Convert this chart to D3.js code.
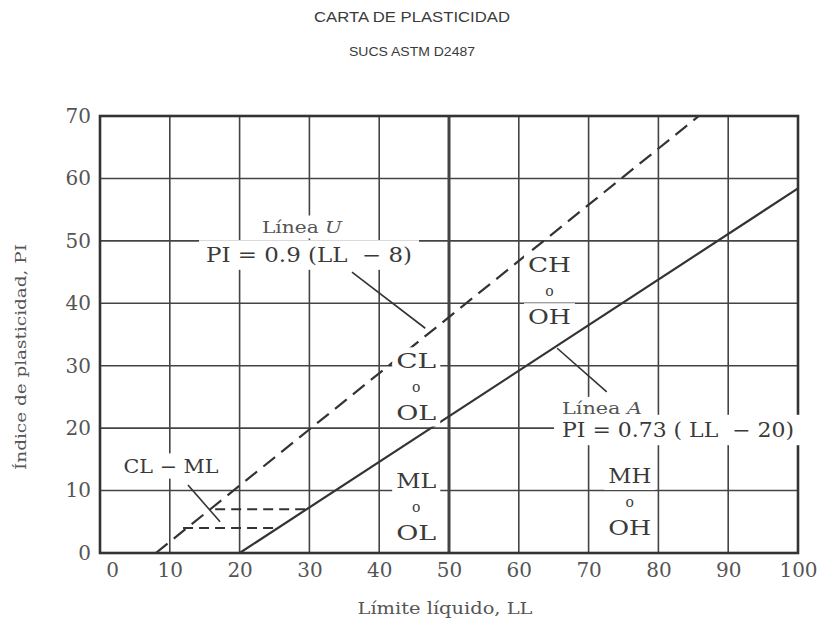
<!DOCTYPE html>
<html><head><meta charset="utf-8">
<script src="https://cdn.jsdelivr.net/npm/d3@7"></script>
<style>body{margin:0;background:#fff}</style>
</head><body><svg id="c" width="824" height="625"></svg>
<script>
// ---- data ----
const xTicks = [0,10,20,30,40,50,60,70,80,90,100];
const yTicks = [0,10,20,30,40,50,60,70];
const lineU = [[8,0],[85.8,70]];          // PI = 0.9 (LL - 8)
const lineA = [[20,0],[100,58.4]];        // PI = 0.73 (LL - 20)
const limit4 = [[11.9,4],[24.8,4]];
const limit7 = [[16.5,7],[30,7]];
const leaderU = [[36.1,45],[46.6,36]];
const leaderA = [[65.5,32.8],[72.6,25.8]];
const leaderCLML = [[12.6,10.9],[17.2,5.0]];
const zoneNames = [["CL","o","OL"],["CH","o","OH"],["ML","o","OL"],["MH","o","OH"]];
const zoneLL = [45.3,64.4,45.3,75.9];
const zonePI = [26.6,42.0,7.3,8.1];

// ---- layout ----
const svg = d3.select("#c");
const L=100, R=798, T=116, B=553;
const x = d3.scaleLinear().domain([0,100]).range([L,R]);
const y = d3.scaleLinear().domain([0,70]).range([B,T]);
const serif = "'DejaVu Serif','Liberation Serif',serif";
const sans = "'Liberation Sans',Arial,sans-serif";
const ink = "#3a3a3a";

svg.append("rect").attr("width",824).attr("height",625).attr("fill","#fff");

// titles
svg.append("text").attr("x",412).attr("y",22).attr("text-anchor","middle")
  .attr("font-family",sans).attr("font-size",15).attr("fill","#3a3a3a")
  .attr("textLength",196).attr("lengthAdjust","spacingAndGlyphs").text("CARTA DE PLASTICIDAD");
svg.append("text").attr("x",412).attr("y",56).attr("text-anchor","middle")
  .attr("font-family",sans).attr("font-size",12).attr("fill","#3a3a3a")
  .attr("textLength",126).attr("lengthAdjust","spacingAndGlyphs").text("SUCS ASTM D2487");

// grid
const g = svg.append("g");
g.selectAll(".vx").data(xTicks.filter(d=>d>0&&d<100)).join("line")
  .attr("x1",d=>x(d)).attr("x2",d=>x(d)).attr("y1",T).attr("y2",B)
  .attr("stroke","#444").attr("stroke-width",d=>d===50?3:1.6);
g.selectAll(".hy").data(yTicks.filter(d=>d>0&&d<70)).join("line")
  .attr("x1",L).attr("x2",R).attr("y1",d=>y(d)).attr("y2",d=>y(d))
  .attr("stroke","#444").attr("stroke-width",1.6);

// lines
const ln = d3.line().x(d=>x(d[0])).y(d=>y(d[1]));
svg.append("clipPath").attr("id","pc").append("rect").attr("x",L).attr("y",T).attr("width",R-L).attr("height",B-T);
svg.append("path").attr("d",ln(lineU)).attr("fill","none").attr("stroke","#333").attr("stroke-width",2.2).attr("stroke-dasharray","15,8").attr("clip-path","url(#pc)");
svg.append("path").attr("d",ln(lineA)).attr("fill","none").attr("stroke","#333").attr("stroke-width",2.2);
[limit4,limit7].forEach(s=>svg.append("path").attr("d",ln(s)).attr("fill","none").attr("stroke","#333").attr("stroke-width",2).attr("stroke-dasharray","10,6"));
[leaderU,leaderA,leaderCLML].forEach(s=>svg.append("path").attr("d",ln(s)).attr("fill","none").attr("stroke","#333").attr("stroke-width",1.6));

// frame
svg.append("rect").attr("x",L).attr("y",T).attr("width",R-L).attr("height",B-T)
  .attr("fill","none").attr("stroke","#333").attr("stroke-width",2.6);

// label helper with white background
function label(cx, cy, parts, size, color, pad, len){
  const t = svg.append("text").attr("x",cx).attr("y",cy).attr("text-anchor","middle")
    .attr("dominant-baseline","central").attr("font-family",serif).attr("font-size",size).attr("fill",color)
    .attr("xml:space","preserve");
  if(len) t.attr("textLength",len).attr("lengthAdjust","spacingAndGlyphs");
  parts.forEach(p=>{ const s=t.append("tspan").text(p.t); if(p.i) s.attr("font-style","italic"); });
  const bb = t.node().getBBox();
  svg.insert("rect", function(){return t.node();})
    .attr("x",bb.x-pad).attr("y",bb.y-pad*0.4).attr("width",bb.width+2*pad).attr("height",bb.height+pad*0.8).attr("fill","#fff");
  return t;
}

zoneNames.forEach((names,i)=>{
  const cx=x(zoneLL[i]), cy=y(zonePI[i]);
  label(cx, cy-26, [{t:names[0]}], 21, ink, 4, names[0].endsWith("H")?43:40);
  label(cx, cy, [{t:names[1]}], 14, ink, 2);
  label(cx, cy+26, [{t:names[2]}], 21, ink, 4, names[2].endsWith("H")?43:40);
});
label(302, 227, [{t:"Línea "},{t:"U",i:true}], 16, "#555", 5, 80);
label(309, 255, [{t:"PI = 0.9 (LL  − 8)"}], 20, ink, 7, 206);
label(602, 408, [{t:"Línea "},{t:"A",i:true}], 16, "#555", 4, 80);
label(678, 430, [{t:"PI = 0.73 ( LL  − 20)"}], 20, ink, 8, 232);
label(171, 466, [{t:"CL − ML"}], 19, ink, 4, 95);

// axes
const xa = svg.append("g").attr("transform",`translate(0,${B})`).call(d3.axisBottom(x).tickValues(xTicks).tickSize(0).tickPadding(10));
xa.select(".domain").remove();
xa.selectAll("text").attr("font-family",serif).attr("font-size",20).attr("fill","#555")
  .attr("dx",d=>d===0?12:0);
const ya = svg.append("g").attr("transform",`translate(${L},0)`).call(d3.axisLeft(y).tickValues(yTicks).tickSize(0).tickPadding(9));
ya.select(".domain").remove();
ya.selectAll("text").attr("font-family",serif).attr("font-size",20).attr("fill","#555");

// axis titles
svg.append("text").attr("x",445).attr("y",614).attr("text-anchor","middle")
  .attr("font-family",serif).attr("font-size",16).attr("fill","#555")
  .attr("textLength",175).attr("lengthAdjust","spacingAndGlyphs").text("Límite líquido, LL");
svg.append("text").attr("transform","translate(26,357) rotate(-90)").attr("text-anchor","middle")
  .attr("font-family",serif).attr("font-size",15).attr("fill","#555")
  .attr("textLength",226).attr("lengthAdjust","spacingAndGlyphs").text("Índice de plasticidad, PI");
</script></body></html>
